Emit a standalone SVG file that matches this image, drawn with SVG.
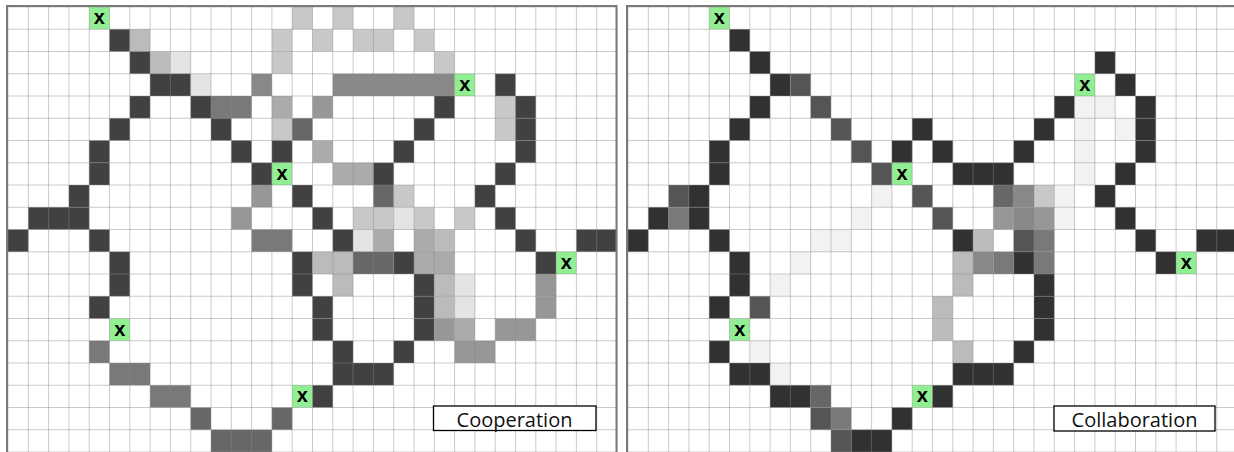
<svg xmlns="http://www.w3.org/2000/svg" width="1234" height="452" viewBox="0 0 1234 452">
<defs>
<style>
.d{fill:#414141}.k{fill:#313131}.m5{fill:#555}.m6{fill:#676767}.m7{fill:#797979}.m8{fill:#888}.m9{fill:#979797}.ma{fill:#ababab}.mb{fill:#bbb}.mc{fill:#c8c8c8}.me{fill:#e4e4e4}.mf{fill:#f2f2f2}.g{fill:#92ee92}
.grid{fill:none;stroke:#8a8a8a;stroke-opacity:0.45;stroke-width:1}
.frame{fill:none;stroke:#7a7a7a;stroke-width:2}
.x{font-family:"Liberation Sans",Arial,sans-serif;font-weight:bold;font-size:20px;fill:#000;text-anchor:middle}
.lbl{fill:#fff;stroke:#000;stroke-width:1.3}
.lt{font-family:"Open Sans","Liberation Sans",sans-serif;font-size:20px;fill:#111;text-anchor:middle}
</style>
<path id="gridlines" class="grid" vector-effect="non-scaling-stroke" d="M0 0V20M1 0V20M2 0V20M3 0V20M4 0V20M5 0V20M6 0V20M7 0V20M8 0V20M9 0V20M10 0V20M11 0V20M12 0V20M13 0V20M14 0V20M15 0V20M16 0V20M17 0V20M18 0V20M19 0V20M20 0V20M21 0V20M22 0V20M23 0V20M24 0V20M25 0V20M26 0V20M27 0V20M28 0V20M29 0V20M30 0V20M0 0H30M0 1H30M0 2H30M0 3H30M0 4H30M0 5H30M0 6H30M0 7H30M0 8H30M0 9H30M0 10H30M0 11H30M0 12H30M0 13H30M0 14H30M0 15H30M0 16H30M0 17H30M0 18H30M0 19H30M0 20H30"/>
</defs>
<rect width="1234" height="452" fill="#fff"/>

<g id="cooperation-panel">
<g id="cooperation-cells" transform="translate(8,7) scale(20.3,22.25)">
<rect class="g" x="4" y="0" width="1" height="1"/><rect class="mc" x="14" y="0" width="1" height="1"/><rect class="mc" x="16" y="0" width="1" height="1"/><rect class="mc" x="19" y="0" width="1" height="1"/>
<rect class="d" x="5" y="1" width="1" height="1"/><rect class="mb" x="6" y="1" width="1" height="1"/><rect class="mc" x="13" y="1" width="1" height="1"/><rect class="mc" x="15" y="1" width="1" height="1"/><rect class="mc" x="17" y="1" width="2" height="1"/><rect class="mc" x="20" y="1" width="1" height="1"/>
<rect class="d" x="6" y="2" width="1" height="1"/><rect class="mb" x="7" y="2" width="1" height="1"/><rect class="me" x="8" y="2" width="1" height="1"/><rect class="mc" x="13" y="2" width="1" height="1"/><rect class="mc" x="21" y="2" width="1" height="1"/>
<rect class="d" x="7" y="3" width="2" height="1"/><rect class="me" x="9" y="3" width="1" height="1"/><rect class="m8" x="12" y="3" width="1" height="1"/><rect class="m8" x="16" y="3" width="6" height="1"/><rect class="g" x="22" y="3" width="1" height="1"/><rect class="d" x="24" y="3" width="1" height="1"/>
<rect class="d" x="6" y="4" width="1" height="1"/><rect class="d" x="9" y="4" width="1" height="1"/><rect class="m7" x="10" y="4" width="2" height="1"/><rect class="ma" x="13" y="4" width="1" height="1"/><rect class="m9" x="15" y="4" width="1" height="1"/><rect class="d" x="21" y="4" width="1" height="1"/><rect class="mc" x="24" y="4" width="1" height="1"/><rect class="d" x="25" y="4" width="1" height="1"/>
<rect class="d" x="5" y="5" width="1" height="1"/><rect class="d" x="10" y="5" width="1" height="1"/><rect class="mc" x="13" y="5" width="1" height="1"/><rect class="m6" x="14" y="5" width="1" height="1"/><rect class="d" x="20" y="5" width="1" height="1"/><rect class="mc" x="24" y="5" width="1" height="1"/><rect class="d" x="25" y="5" width="1" height="1"/>
<rect class="d" x="4" y="6" width="1" height="1"/><rect class="d" x="11" y="6" width="1" height="1"/><rect class="d" x="13" y="6" width="1" height="1"/><rect class="ma" x="15" y="6" width="1" height="1"/><rect class="d" x="19" y="6" width="1" height="1"/><rect class="d" x="25" y="6" width="1" height="1"/>
<rect class="d" x="4" y="7" width="1" height="1"/><rect class="d" x="12" y="7" width="1" height="1"/><rect class="g" x="13" y="7" width="1" height="1"/><rect class="ma" x="16" y="7" width="2" height="1"/><rect class="d" x="18" y="7" width="1" height="1"/><rect class="d" x="24" y="7" width="1" height="1"/>
<rect class="d" x="3" y="8" width="1" height="1"/><rect class="m9" x="12" y="8" width="1" height="1"/><rect class="d" x="14" y="8" width="1" height="1"/><rect class="m6" x="18" y="8" width="1" height="1"/><rect class="mc" x="19" y="8" width="1" height="1"/><rect class="d" x="23" y="8" width="1" height="1"/>
<rect class="d" x="1" y="9" width="3" height="1"/><rect class="m9" x="11" y="9" width="1" height="1"/><rect class="d" x="15" y="9" width="1" height="1"/><rect class="mc" x="17" y="9" width="2" height="1"/><rect class="me" x="19" y="9" width="1" height="1"/><rect class="mc" x="20" y="9" width="1" height="1"/><rect class="mc" x="22" y="9" width="1" height="1"/><rect class="d" x="24" y="9" width="1" height="1"/>
<rect class="d" x="0" y="10" width="1" height="1"/><rect class="d" x="4" y="10" width="1" height="1"/><rect class="m7" x="12" y="10" width="2" height="1"/><rect class="d" x="16" y="10" width="1" height="1"/><rect class="me" x="17" y="10" width="1" height="1"/><rect class="ma" x="18" y="10" width="1" height="1"/><rect class="ma" x="20" y="10" width="1" height="1"/><rect class="mb" x="21" y="10" width="1" height="1"/><rect class="d" x="25" y="10" width="1" height="1"/><rect class="d" x="28" y="10" width="2" height="1"/>
<rect class="d" x="5" y="11" width="1" height="1"/><rect class="d" x="14" y="11" width="1" height="1"/><rect class="mb" x="15" y="11" width="2" height="1"/><rect class="m6" x="17" y="11" width="2" height="1"/><rect class="d" x="19" y="11" width="1" height="1"/><rect class="ma" x="20" y="11" width="2" height="1"/><rect class="d" x="26" y="11" width="1" height="1"/><rect class="g" x="27" y="11" width="1" height="1"/>
<rect class="d" x="5" y="12" width="1" height="1"/><rect class="d" x="14" y="12" width="1" height="1"/><rect class="mb" x="16" y="12" width="1" height="1"/><rect class="d" x="20" y="12" width="1" height="1"/><rect class="mb" x="21" y="12" width="1" height="1"/><rect class="me" x="22" y="12" width="1" height="1"/><rect class="m9" x="26" y="12" width="1" height="1"/>
<rect class="d" x="4" y="13" width="1" height="1"/><rect class="d" x="15" y="13" width="1" height="1"/><rect class="d" x="20" y="13" width="1" height="1"/><rect class="mb" x="21" y="13" width="1" height="1"/><rect class="me" x="22" y="13" width="1" height="1"/><rect class="m9" x="26" y="13" width="1" height="1"/>
<rect class="g" x="5" y="14" width="1" height="1"/><rect class="d" x="15" y="14" width="1" height="1"/><rect class="d" x="20" y="14" width="1" height="1"/><rect class="m9" x="21" y="14" width="1" height="1"/><rect class="ma" x="22" y="14" width="1" height="1"/><rect class="m9" x="24" y="14" width="2" height="1"/>
<rect class="m7" x="4" y="15" width="1" height="1"/><rect class="d" x="16" y="15" width="1" height="1"/><rect class="d" x="19" y="15" width="1" height="1"/><rect class="m9" x="22" y="15" width="2" height="1"/>
<rect class="m7" x="5" y="16" width="2" height="1"/><rect class="d" x="16" y="16" width="3" height="1"/>
<rect class="m7" x="7" y="17" width="2" height="1"/><rect class="g" x="14" y="17" width="1" height="1"/><rect class="d" x="15" y="17" width="1" height="1"/>
<rect class="m6" x="9" y="18" width="1" height="1"/><rect class="m6" x="13" y="18" width="1" height="1"/>
<rect class="m6" x="10" y="19" width="3" height="1"/>
<use href="#gridlines"/>
</g>
<rect class="frame" x="7" y="6" width="609.5" height="460"/>
<g id="cooperation-marks">
<text class="x" x="99.4" y="24">x</text>
<text class="x" x="464.8" y="90.8">x</text>
<text class="x" x="282.1" y="179.8">x</text>
<text class="x" x="566.3" y="268.8">x</text>
<text class="x" x="119.7" y="335.5">x</text>
<text class="x" x="302.4" y="402.3">x</text>
</g>
<g id="cooperation-label">
<rect class="lbl" x="433.5" y="406" width="162.5" height="24.5"/>
<text class="lt" x="514.5" y="426.5">Cooperation</text>
</g>
</g>

<g id="collaboration-panel">
<g id="collaboration-cells" transform="translate(628,7) scale(20.3,22.25)">
<rect class="g" x="4" y="0" width="1" height="1"/>
<rect class="k" x="5" y="1" width="1" height="1"/>
<rect class="k" x="6" y="2" width="1" height="1"/><rect class="k" x="23" y="2" width="1" height="1"/>
<rect class="k" x="7" y="3" width="1" height="1"/><rect class="m5" x="8" y="3" width="1" height="1"/><rect class="g" x="22" y="3" width="1" height="1"/><rect class="k" x="24" y="3" width="1" height="1"/>
<rect class="k" x="6" y="4" width="1" height="1"/><rect class="m5" x="9" y="4" width="1" height="1"/><rect class="k" x="21" y="4" width="1" height="1"/><rect class="mf" x="22" y="4" width="2" height="1"/><rect class="k" x="25" y="4" width="1" height="1"/>
<rect class="k" x="5" y="5" width="1" height="1"/><rect class="m5" x="10" y="5" width="1" height="1"/><rect class="k" x="14" y="5" width="1" height="1"/><rect class="k" x="20" y="5" width="1" height="1"/><rect class="mf" x="22" y="5" width="1" height="1"/><rect class="mf" x="24" y="5" width="1" height="1"/><rect class="k" x="25" y="5" width="1" height="1"/>
<rect class="k" x="4" y="6" width="1" height="1"/><rect class="m5" x="11" y="6" width="1" height="1"/><rect class="k" x="13" y="6" width="1" height="1"/><rect class="k" x="15" y="6" width="1" height="1"/><rect class="k" x="19" y="6" width="1" height="1"/><rect class="mf" x="22" y="6" width="1" height="1"/><rect class="k" x="25" y="6" width="1" height="1"/>
<rect class="k" x="4" y="7" width="1" height="1"/><rect class="m5" x="12" y="7" width="1" height="1"/><rect class="g" x="13" y="7" width="1" height="1"/><rect class="k" x="16" y="7" width="3" height="1"/><rect class="mf" x="22" y="7" width="1" height="1"/><rect class="k" x="24" y="7" width="1" height="1"/>
<rect class="m5" x="2" y="8" width="1" height="1"/><rect class="k" x="3" y="8" width="1" height="1"/><rect class="mf" x="12" y="8" width="1" height="1"/><rect class="m5" x="14" y="8" width="1" height="1"/><rect class="m6" x="18" y="8" width="1" height="1"/><rect class="m8" x="19" y="8" width="1" height="1"/><rect class="mc" x="20" y="8" width="1" height="1"/><rect class="mf" x="21" y="8" width="1" height="1"/><rect class="k" x="23" y="8" width="1" height="1"/>
<rect class="k" x="1" y="9" width="1" height="1"/><rect class="m7" x="2" y="9" width="1" height="1"/><rect class="k" x="3" y="9" width="1" height="1"/><rect class="mf" x="11" y="9" width="1" height="1"/><rect class="m5" x="15" y="9" width="1" height="1"/><rect class="m9" x="18" y="9" width="1" height="1"/><rect class="m8" x="19" y="9" width="1" height="1"/><rect class="m9" x="20" y="9" width="1" height="1"/><rect class="mf" x="21" y="9" width="1" height="1"/><rect class="k" x="24" y="9" width="1" height="1"/>
<rect class="k" x="0" y="10" width="1" height="1"/><rect class="k" x="4" y="10" width="1" height="1"/><rect class="mf" x="9" y="10" width="2" height="1"/><rect class="k" x="16" y="10" width="1" height="1"/><rect class="mb" x="17" y="10" width="1" height="1"/><rect class="m5" x="19" y="10" width="1" height="1"/><rect class="m7" x="20" y="10" width="1" height="1"/><rect class="k" x="25" y="10" width="1" height="1"/><rect class="k" x="28" y="10" width="2" height="1"/>
<rect class="k" x="5" y="11" width="1" height="1"/><rect class="mf" x="8" y="11" width="1" height="1"/><rect class="mb" x="16" y="11" width="1" height="1"/><rect class="m8" x="17" y="11" width="1" height="1"/><rect class="m7" x="18" y="11" width="1" height="1"/><rect class="k" x="19" y="11" width="1" height="1"/><rect class="m7" x="20" y="11" width="1" height="1"/><rect class="k" x="26" y="11" width="1" height="1"/><rect class="g" x="27" y="11" width="1" height="1"/>
<rect class="k" x="5" y="12" width="1" height="1"/><rect class="mf" x="7" y="12" width="1" height="1"/><rect class="mb" x="16" y="12" width="1" height="1"/><rect class="k" x="20" y="12" width="1" height="1"/>
<rect class="k" x="4" y="13" width="1" height="1"/><rect class="m5" x="6" y="13" width="1" height="1"/><rect class="mb" x="15" y="13" width="1" height="1"/><rect class="k" x="20" y="13" width="1" height="1"/>
<rect class="g" x="5" y="14" width="1" height="1"/><rect class="mb" x="15" y="14" width="1" height="1"/><rect class="k" x="20" y="14" width="1" height="1"/>
<rect class="k" x="4" y="15" width="1" height="1"/><rect class="mf" x="6" y="15" width="1" height="1"/><rect class="mb" x="16" y="15" width="1" height="1"/><rect class="k" x="19" y="15" width="1" height="1"/>
<rect class="k" x="5" y="16" width="2" height="1"/><rect class="mf" x="7" y="16" width="1" height="1"/><rect class="k" x="16" y="16" width="3" height="1"/>
<rect class="k" x="7" y="17" width="2" height="1"/><rect class="m6" x="9" y="17" width="1" height="1"/><rect class="g" x="14" y="17" width="1" height="1"/><rect class="k" x="15" y="17" width="1" height="1"/>
<rect class="m5" x="9" y="18" width="1" height="1"/><rect class="m7" x="10" y="18" width="1" height="1"/><rect class="k" x="13" y="18" width="1" height="1"/>
<rect class="m5" x="10" y="19" width="1" height="1"/><rect class="k" x="11" y="19" width="2" height="1"/>
<use href="#gridlines"/>
</g>
<rect class="frame" x="627" y="6" width="620" height="460"/>
<g id="collaboration-marks">
<text class="x" x="719.4" y="24">x</text>
<text class="x" x="1084.8" y="90.8">x</text>
<text class="x" x="902.1" y="179.8">x</text>
<text class="x" x="1186.3" y="268.8">x</text>
<text class="x" x="739.7" y="335.5">x</text>
<text class="x" x="922.4" y="402.3">x</text>
</g>
<g id="collaboration-label">
<rect class="lbl" x="1054" y="406" width="161" height="25"/>
<text class="lt" x="1134.5" y="426.5">Collaboration</text>
</g>
</g>
</svg>
